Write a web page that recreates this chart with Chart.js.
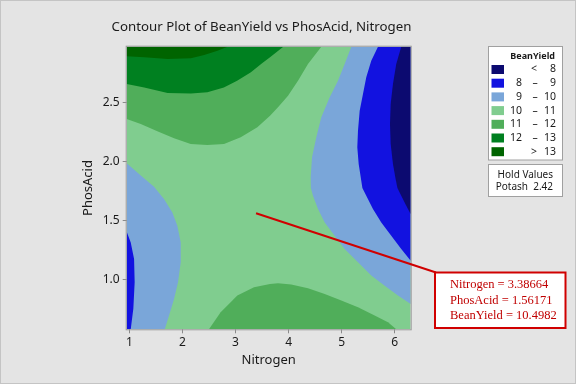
<!DOCTYPE html>
<html>
<head>
<meta charset="utf-8">
<script src="https://cdn.jsdelivr.net/npm/chart.js@4.4.1/dist/chart.umd.min.js"></script>
<style>
  html, body { margin: 0; padding: 0; background: #e4e4e4; }
  #wrap { width: 576px; height: 384px; }
</style>
</head>
<body>
<div id="wrap"><canvas id="contour" width="576" height="384"></canvas></div>
<script>
// axis ranges and ticks
var nitrogenRange = [0.95, 6.3];
var phosRange = [0.58, 2.97];
var nitrogenTicks = [1, 2, 3, 4, 5, 6];
var phosTicks = [1.0, 1.5, 2.0, 2.5];

// BeanYield bands (legend order, low -> high)
var bandLow = [null, 8, 9, 10, 11, 12, 13];
var bandHigh = [8, 9, 10, 11, 12, 13, null];
var bandColors = ["#0c0a70", "#1212e0", "#7aa6d9", "#80cd8f", "#50ae5a", "#008020", "#006400"];

// contour boundaries [Nitrogen, PhosAcid]
var edge13TopLeft = [[0.95, 2.89], [1.28, 2.88], [1.72, 2.865], [2.16, 2.873], [2.41, 2.9], [2.66, 2.935], [2.85, 2.97]];
var edge12TopLeft = [[0.95, 2.654], [1.28, 2.626], [1.72, 2.578], [2.16, 2.575], [2.47, 2.584], [2.78, 2.626], [3.03, 2.682], [3.29, 2.753], [3.5, 2.83], [3.65, 2.88], [3.9, 2.97]];
var edge11TopLeft = [[0.95, 2.359], [1.215, 2.316], [1.527, 2.255], [1.842, 2.196], [2.156, 2.148], [2.469, 2.139], [2.783, 2.148], [3.098, 2.204], [3.411, 2.289], [3.65, 2.387], [3.8, 2.457], [3.989, 2.555], [4.177, 2.682], [4.365, 2.823], [4.616, 2.97]];
var edge10Right = [[5.181, 2.97], [5.056, 2.823], [4.93, 2.682], [4.774, 2.542], [4.616, 2.373], [4.522, 2.204], [4.441, 2.035], [4.416, 1.867], [4.42, 1.776], [4.459, 1.709], [4.554, 1.597], [4.68, 1.484], [4.868, 1.371], [5.056, 1.259], [5.307, 1.146], [5.557, 1.034], [5.81, 0.949], [6.06, 0.865], [6.3, 0.795]];
var edge9Right = [[5.684, 2.97], [5.557, 2.851], [5.463, 2.711], [5.401, 2.57], [5.339, 2.429], [5.307, 2.26], [5.294, 2.12], [5.32, 1.979], [5.358, 1.867], [5.39, 1.776], [5.463, 1.709], [5.589, 1.597], [5.746, 1.484], [5.934, 1.371], [6.122, 1.259], [6.3, 1.16]];
var edge8Right = [[6.122, 2.97], [6.028, 2.823], [5.966, 2.654], [5.923, 2.485], [5.91, 2.316], [5.923, 2.148], [5.966, 1.979], [6.009, 1.867], [6.05, 1.776], [6.122, 1.709], [6.217, 1.624], [6.3, 1.554]];
var edge10Left = [[0.95, 1.985], [1.215, 1.88], [1.465, 1.785], [1.653, 1.681], [1.81, 1.568], [1.904, 1.456], [1.968, 1.315], [1.968, 1.146], [1.917, 0.977], [1.842, 0.837], [1.748, 0.696], [1.667, 0.58]];
var edge9Left = [[0.95, 1.405], [1.026, 1.315], [1.089, 1.175], [1.1, 0.977], [1.075, 0.753], [1.026, 0.58]];
var edge11Bottom = [[2.5, 0.58], [2.72, 0.724], [3.034, 0.865], [3.348, 0.935], [3.65, 0.964], [3.8, 0.969], [4.05, 0.958], [4.365, 0.927], [4.68, 0.879], [4.993, 0.823], [5.307, 0.766], [5.621, 0.696], [5.872, 0.64], [6.028, 0.58]];

// hold value and crosshair readout
var holdName = "Potash";
var holdValue = 2.42;
var cursorNitrogen = 3.38664;
var cursorPhos = 1.56171;
var cursorYield = 10.4982;

var font = "'Noto Sans', 'DejaVu Sans', sans-serif";
var xMin = nitrogenRange[0], xMax = nitrogenRange[1];
var yMin = phosRange[0], yMax = phosRange[1];

function toPts(arr) {
  return arr.map(function (p) { return { x: p[0], y: p[1] }; });
}

// each region = a boundary plus the plot corners that close it
var regions = [
  { band: 3, pts: [[xMin, yMin], [xMax, yMin], [xMax, yMax], [xMin, yMax]] },
  { band: 4, pts: [[xMin, yMax]].concat(edge11TopLeft) },
  { band: 5, pts: [[xMin, yMax]].concat(edge12TopLeft) },
  { band: 6, pts: [[xMin, yMax]].concat(edge13TopLeft) },
  { band: 2, pts: edge10Right.concat([[xMax, yMax]]) },
  { band: 1, pts: edge9Right.concat([[xMax, yMax]]) },
  { band: 0, pts: edge8Right.concat([[xMax, yMax]]) },
  { band: 2, pts: edge10Left.concat([[xMin, yMin]]) },
  { band: 1, pts: edge9Left.concat([[xMin, yMin]]) },
  { band: 4, pts: edge11Bottom }
];

var datasets = regions.map(function (r, i) {
  return {
    data: toPts(r.pts),
    backgroundColor: bandColors[r.band],
    borderColor: bandColors[r.band],
    borderWidth: 0,
    pointRadius: 0,
    fill: "shape",
    tension: 0,
    order: regions.length - i
  };
});

var decorPlugin = {
  id: "decor",
  beforeDraw: function (chart) {
    var ctx = chart.ctx;
    ctx.save();
    ctx.fillStyle = "#e4e4e4";
    ctx.fillRect(0, 0, chart.width, chart.height);
    ctx.strokeStyle = "#c4c4c4";
    ctx.lineWidth = 1;
    ctx.strokeRect(0.5, 0.5, chart.width - 1, chart.height - 1);
    ctx.restore();
  },
  afterDraw: function (chart) {
    var ctx = chart.ctx;
    var a = chart.chartArea;
    var xs = chart.scales.x, ys = chart.scales.y;
    ctx.save();

    // plot frame
    ctx.strokeStyle = "#9a9a9a";
    ctx.lineWidth = 1;
    ctx.strokeRect(a.left - 0.5, a.top - 0.5, a.right - a.left + 1, a.bottom - a.top + 1);

    // title
    var title = "Contour Plot of BeanYield vs PhosAcid, Nitrogen";
    ctx.font = "15px " + font;
    var size = 15 * 300 / ctx.measureText(title).width;
    ctx.font = size.toFixed(2) + "px " + font;
    ctx.fillStyle = "#1a1a1a";
    ctx.textAlign = "center";
    ctx.textBaseline = "middle";
    ctx.fillText(title, 261.5, 27);

    // legend box
    ctx.fillStyle = "#ffffff";
    ctx.fillRect(488.5, 46.5, 74, 113.5);
    ctx.strokeStyle = "#a0a0a0";
    ctx.strokeRect(488.5, 46.5, 74, 113.5);
    ctx.fillStyle = "#1a1a1a";
    ctx.font = "bold 9px " + font;
    ctx.textAlign = "right";
    ctx.fillText("BeanYield", 555, 56);
    ctx.font = "10.5px " + font;
    for (var i = 0; i < bandColors.length; i++) {
      var cy = 69.5 + i * 13.7;
      ctx.fillStyle = bandColors[i];
      ctx.fillRect(491.5, cy - 4.5, 12.5, 9);
      ctx.fillStyle = "#1a1a1a";
      ctx.textAlign = "right";
      if (bandLow[i] === null) {
        ctx.textAlign = "center";
        ctx.fillText("<", 534, cy);
        ctx.textAlign = "right";
        ctx.fillText(String(bandHigh[i]), 556, cy);
      } else if (bandHigh[i] === null) {
        ctx.textAlign = "center";
        ctx.fillText(">", 534, cy);
        ctx.textAlign = "right";
        ctx.fillText(String(bandLow[i]), 556, cy);
      } else {
        ctx.fillText(String(bandLow[i]), 522, cy);
        ctx.textAlign = "center";
        ctx.fillText("\u2013", 535, cy);
        ctx.textAlign = "right";
        ctx.fillText(String(bandHigh[i]), 556, cy);
      }
    }

    // hold values box
    ctx.fillStyle = "#ffffff";
    ctx.fillRect(488.5, 164.5, 74, 32);
    ctx.strokeStyle = "#a0a0a0";
    ctx.strokeRect(488.5, 164.5, 74, 32);
    ctx.fillStyle = "#1a1a1a";
    ctx.font = "10px " + font;
    ctx.textAlign = "right";
    ctx.fillText("Hold Values", 553, 175);
    ctx.fillText(holdName + "  " + holdValue.toFixed(2), 553, 187);

    // crosshair callout
    var px = xs.getPixelForValue(cursorNitrogen);
    var py = ys.getPixelForValue(cursorPhos);
    ctx.strokeStyle = "#d00000";
    ctx.lineWidth = 2;
    ctx.beginPath();
    ctx.moveTo(px, py);
    ctx.lineTo(436, 272.5);
    ctx.stroke();
    ctx.fillStyle = "#ffffff";
    ctx.fillRect(435, 272.5, 130.5, 55.5);
    ctx.strokeRect(435, 272.5, 130.5, 55.5);
    ctx.fillStyle = "#c00000";
    ctx.font = "12.5px 'Liberation Serif', 'DejaVu Serif', serif";
    ctx.textAlign = "left";
    ctx.textBaseline = "alphabetic";
    ctx.fillText("Nitrogen = " + cursorNitrogen, 450, 287.5);
    ctx.fillText("PhosAcid = " + cursorPhos, 450, 303.5);
    ctx.fillText("BeanYield = " + cursorYield, 450, 319);
    ctx.restore();
  }
};

new Chart(document.getElementById("contour"), {
  type: "line",
  data: { datasets: datasets },
  plugins: [decorPlugin],
  options: {
    responsive: false,
    animation: false,
    events: [],
    layout: { padding: { left: 0, right: 165.3, top: 46.7, bottom: 14.7 } },
    plugins: { legend: { display: false }, tooltip: { enabled: false }, title: { display: false } },
    scales: {
      x: {
        type: "linear",
        min: xMin,
        max: xMax,
        afterBuildTicks: function (s) { s.ticks = nitrogenTicks.map(function (v) { return { value: v }; }); },
        afterFit: function (s) { s.height = 40; },
        ticks: { font: { family: font, size: 12 }, color: "#1a1a1a", padding: 2, maxRotation: 0, autoSkip: false,
          callback: function (v) { return String(v); } },
        grid: { drawOnChartArea: false, tickLength: 4, color: "#8a8a8a" },
        border: { display: false },
        title: { display: true, text: "Nitrogen", color: "#1a1a1a", font: { family: font, size: 13 }, padding: { top: 0, bottom: 1.5 } }
      },
      y: {
        type: "linear",
        min: yMin,
        max: yMax,
        afterBuildTicks: function (s) { s.ticks = phosTicks.map(function (v) { return { value: v }; }); },
        afterFit: function (s) { s.width = 126.7; },
        ticks: { font: { family: font, size: 12 }, color: "#1a1a1a", padding: 3, autoSkip: false,
          callback: function (v) { return Number(v).toFixed(1); } },
        grid: { drawOnChartArea: false, tickLength: 4, color: "#8a8a8a" },
        border: { display: false },
        title: { display: true, text: "PhosAcid", color: "#1a1a1a", font: { family: font, size: 13 }, padding: { top: 80, bottom: 0 } }
      }
    }
  }
});
</script>
</body>
</html>
